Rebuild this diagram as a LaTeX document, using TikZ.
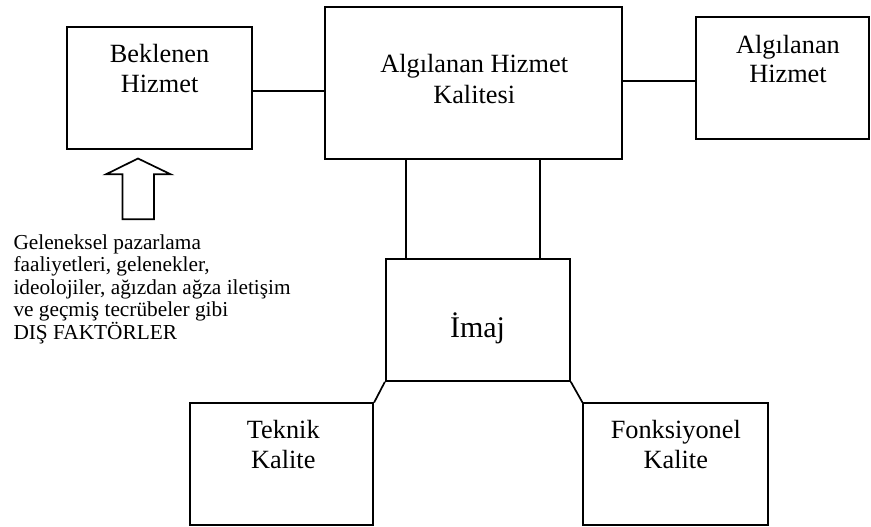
\documentclass[tikz,border=0pt]{standalone}
\usepackage{fontspec}
\setmainfont{Liberation Serif}
\begin{document}
\begin{tikzpicture}[x=1pt,y=-1pt,
  box/.style={draw, line width=1.7pt, inner sep=0pt, rectangle},
  conn/.style={line width=1.7pt},
  lbl/.style={inner sep=0pt, anchor=base, font=\fontsize{26.3}{30}\selectfont},
  side/.style={inner sep=0pt, anchor=base west, font=\fontsize{21.3}{22.5}\selectfont}]
\useasboundingbox (0,0) rectangle (871,527);

% boxes
\node[box, minimum width=185pt, minimum height=122pt] (bek) at (159.5,88) {};
\node[box, minimum width=297pt, minimum height=152pt] (alg) at (473.5,83) {};
\node[box, minimum width=173pt, minimum height=122.6pt] (sag) at (782.5,78) {};
\node[box, minimum width=184.3pt, minimum height=122pt] (imaj) at (477.85,320) {};
\node[box, minimum width=183.3pt, minimum height=121.7pt] (tek) at (281.65,464.15) {};
\node[box, minimum width=185pt, minimum height=121.7pt] (fon) at (675.8,464.15) {};

% labels
\node[lbl] (bek1) at (159.6,62.3) {Beklenen};
\node[lbl] (bek2) at (159.6,92.3) {Hizmet};
\node[lbl] (alg1) at (474.2,72.7) {Algılanan Hizmet};
\node[lbl] (alg2) at (474.2,103.3) {Kalitesi};
\node[lbl] (sag1) at (788,53.3) {Algılanan};
\node[lbl] (sag2) at (788,82.7) {Hizmet};
\node[lbl, font=\fontsize{30}{34}\selectfont] (imajt) at (477.5,337.3) {İmaj};
\node[lbl] (tek1) at (283.3,438) {Teknik};
\node[lbl] (tek2) at (283.3,468) {Kalite};
\node[lbl] (fon1) at (675.8,438) {Fonksiyonel};
\node[lbl] (fon2) at (675.8,468) {Kalite};

% side text
\node[side] (s1) at (13.3,249.3) {Geleneksel pazarlama};
\node[side] (s2) at (13.3,271.8) {faaliyetleri, gelenekler,};
\node[side] (s3) at (13.3,294.3) {ideolojiler, ağızdan ağza iletişim};
\node[side] (s4) at (13.3,316.8) {ve geçmiş tecrübeler gibi};
\node[side] (s5) at (13.3,339.3) {DIŞ FAKTÖRLER};

% hollow up arrow
\draw[conn, line join=miter] (138,158.5) -- (170.7,174.3) -- (154,174.3) -- (154,219.3)
  -- (122.5,219.3) -- (122.5,174.3) -- (106,174.3) -- cycle;

% connectors
\draw[conn] ([yshift=-2.7pt]bek.east) coordinate (c1) -- (c1 -| alg.west);
\draw[conn] ([yshift=2.3pt]alg.east) coordinate (c2) -- (c2 -| sag.west);
\draw[conn] ([xshift=-72.15pt]imaj.north) coordinate (c3) -- (c3 |- alg.south);
\draw[conn] ([xshift=62.15pt]imaj.north) coordinate (c4) -- (c4 |- alg.south);
\draw[conn] (imaj.south west) -- (tek.north east);
\draw[conn] (imaj.south east) -- (fon.north west);
\end{tikzpicture}
\end{document}
